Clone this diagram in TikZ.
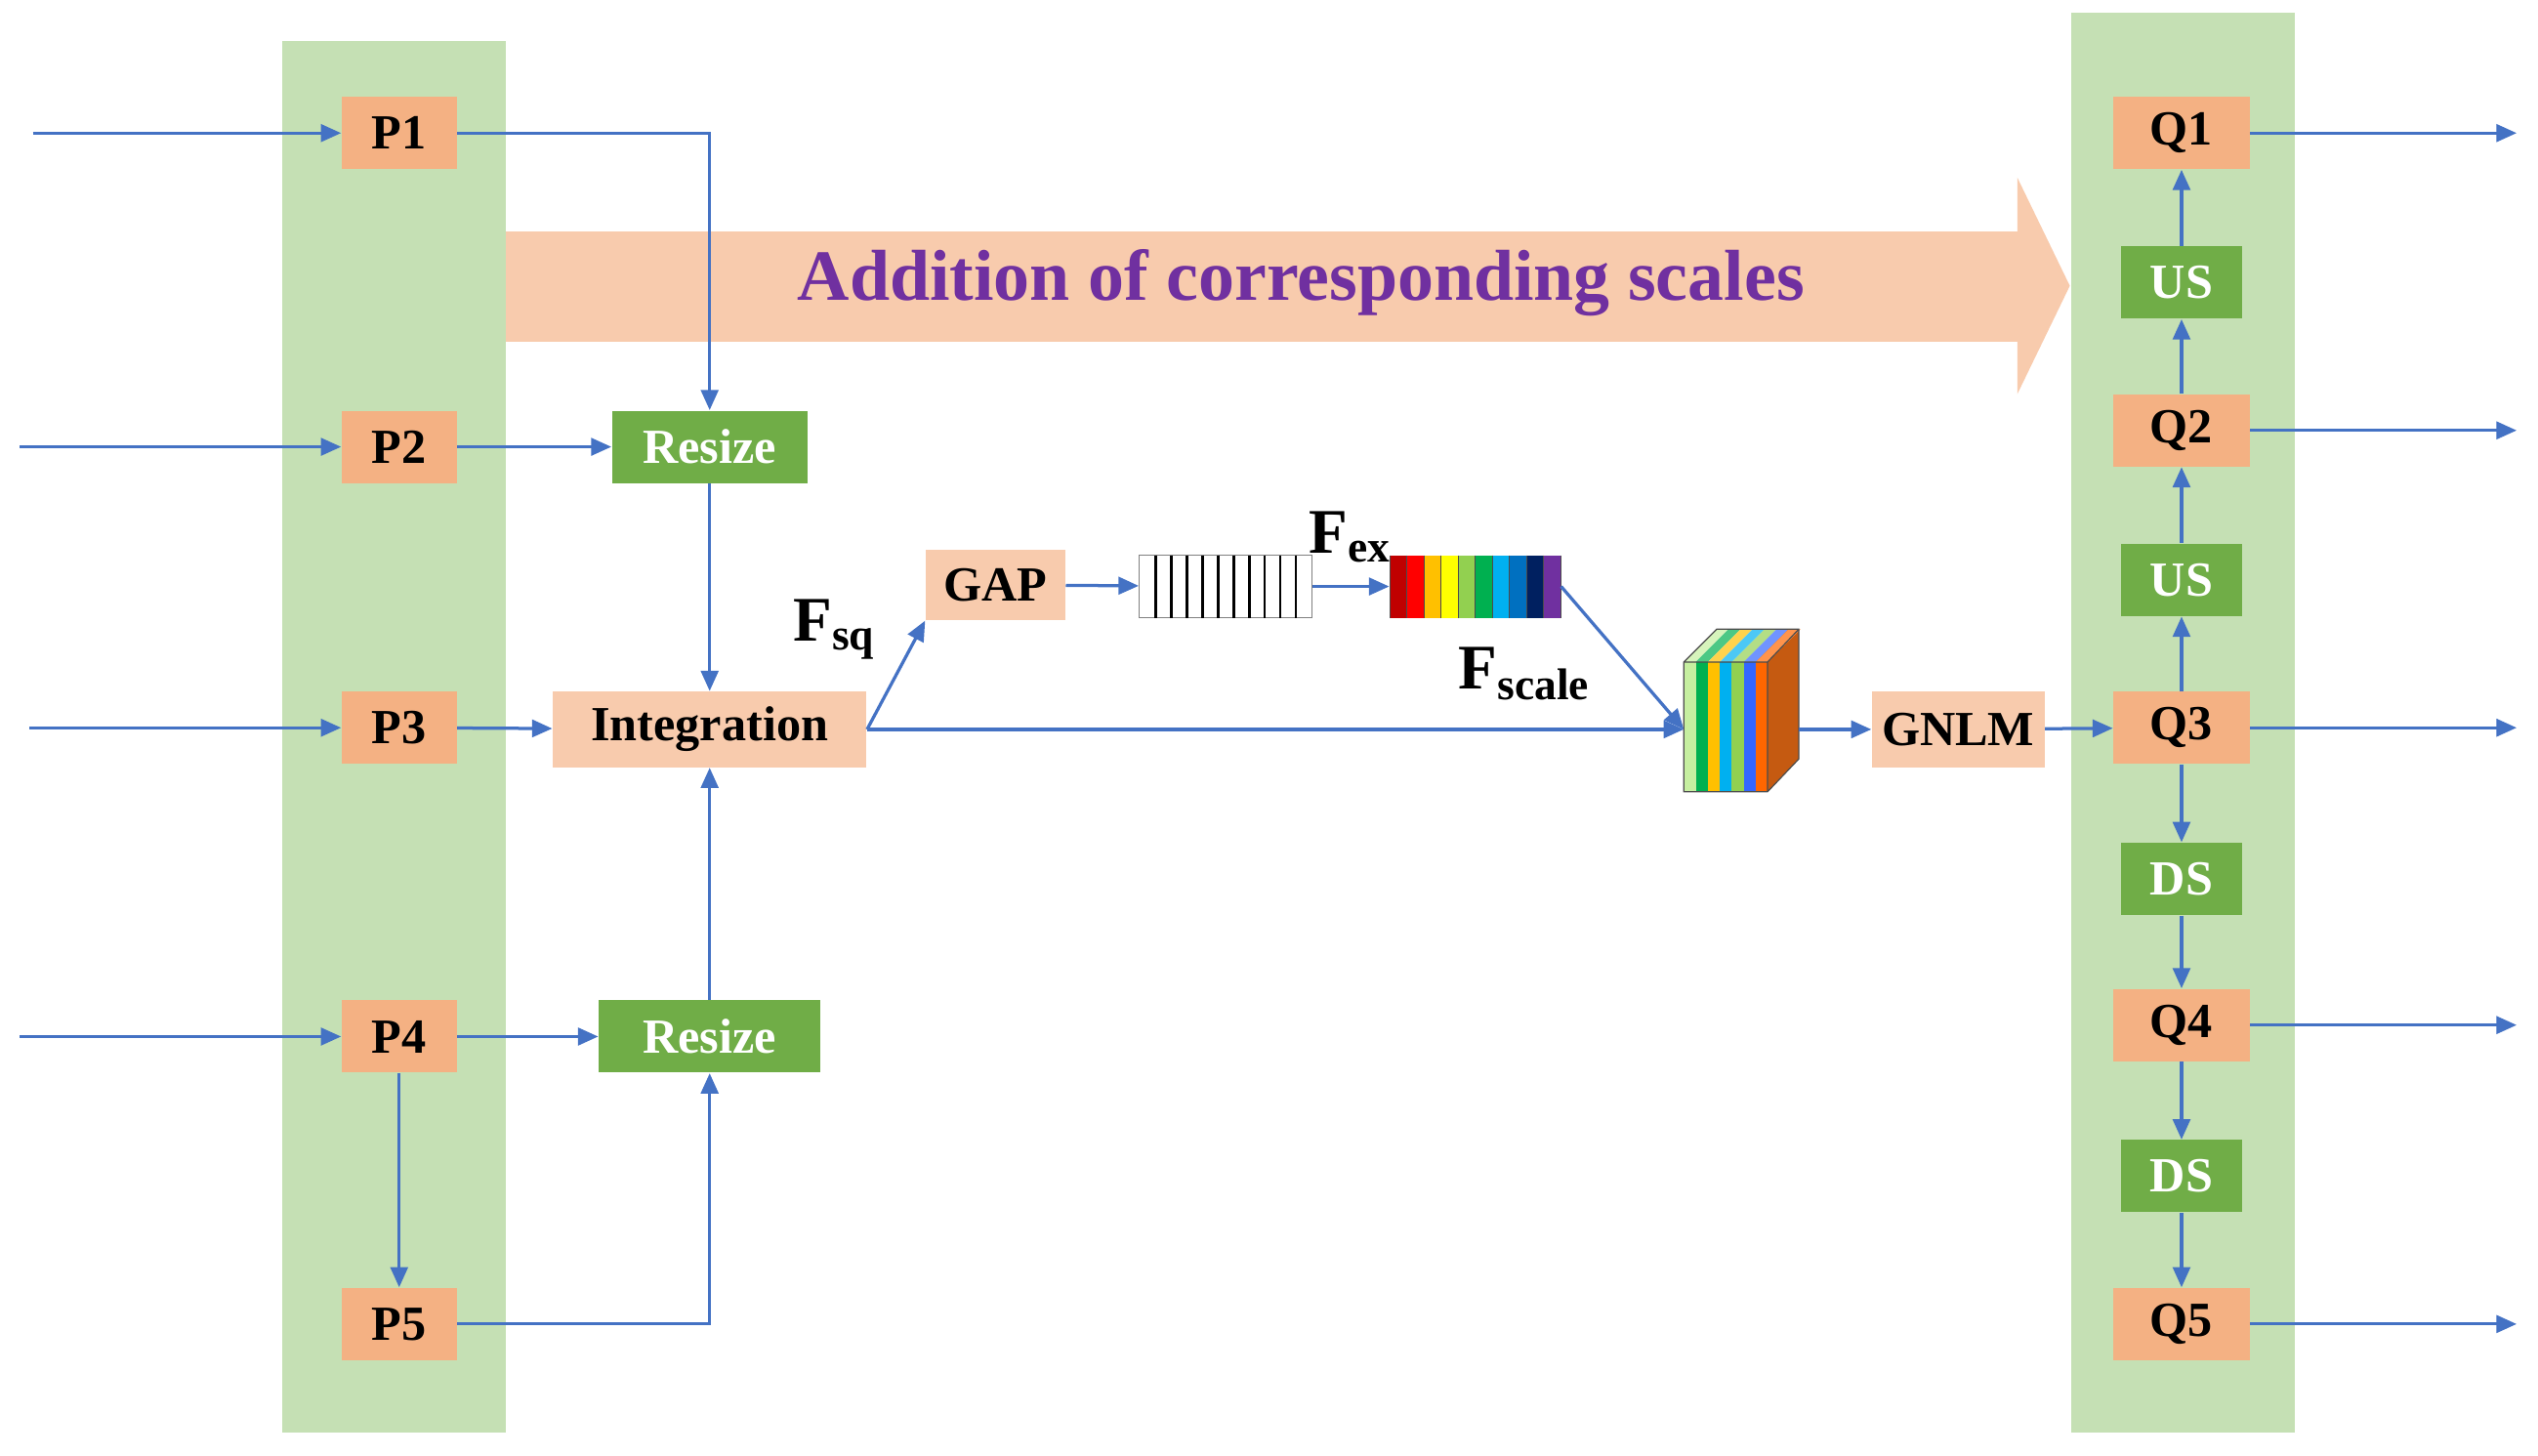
\documentclass[tikz,border=0pt]{standalone}
\usepackage{fontspec}
\setmainfont{Liberation Serif}
\usetikzlibrary{arrows.meta}
\definecolor{band}{HTML}{C5E0B4}
\definecolor{org}{HTML}{F4B183}
\definecolor{peach}{HTML}{F8CBAD}
\definecolor{grn}{HTML}{70AD47}
\definecolor{ablue}{HTML}{4472C4}
\definecolor{ttl}{HTML}{7030A0}
\begin{document}
\begin{tikzpicture}[x=0.02cm,y=-0.02cm,
  pbox/.style={fill=org,draw=none,minimum width=1.4cm,minimum height=0.88cm,font=\bfseries\fontsize{17}{17}\selectfont,inner sep=0pt},
  qbox/.style={pbox,minimum width=1.66cm},
  gbox/.style={fill=grn,draw=none,text=white,minimum height=0.88cm,font=\bfseries\fontsize{17}{17}\selectfont,inner sep=0pt},
  lbox/.style={fill=peach,draw=none,minimum height=0.92cm,font=\bfseries\fontsize{17}{17}\selectfont,inner sep=0pt},
  ar/.style={draw=ablue,line width=1.1pt,-{Triangle[length=7pt,width=6pt]}},
  lab/.style={font=\bfseries\fontsize{22}{22}\selectfont}]
\useasboundingbox (0,0) rectangle (1545,886);
\fill[band] (172,25) rectangle (308,872);
\fill[band] (1261,8) rectangle (1397,872);
\fill[peach] (308,141) -- (1228,141) -- (1228,108) -- (1260,174) -- (1228,240) -- (1228,208) -- (308,208) -- cycle;
\node[text=ttl,font=\bfseries\fontsize{25}{25}\selectfont] (title) at (792,172) {Addition of corresponding scales};
% P nodes
\foreach \n/\y in {1/81,2/272,3/443,4/631,5/806} \node[pbox] (P\n) at (243,\y) {P\n};
\foreach \n/\y in {1/81,2/262,3/443,4/624,5/806} \node[qbox] (Q\n) at (1328,\y) {Q\n};
\node[gbox,minimum width=1.48cm] (US1) at (1328,172) {US};
\node[gbox,minimum width=1.48cm] (US2) at (1328,353) {US};
\node[gbox,minimum width=1.48cm] (DS1) at (1328,535) {DS};
\node[gbox,minimum width=1.48cm] (DS2) at (1328,716) {DS};
\node[gbox,minimum width=2.38cm] (R1) at (432,272) {Resize};
\node[gbox,minimum width=2.7cm] (R2) at (432,631) {Resize};
\node[lbox,minimum width=3.82cm] (I) at (432,444) {Integration};
\node[lbox,minimum width=1.7cm,minimum height=0.86cm] (GAP) at (606,356) {GAP};
\node[lbox,minimum width=2.1cm] (GN) at (1192,444) {GNLM};
% stripes
\node[draw=gray,minimum width=2.1cm,minimum height=0.76cm,inner sep=0pt] (S) at (746,357) {};
\foreach \i in {1,...,10} \draw[black,line width=0.8pt] (694+\i*9.5,338) -- (694+\i*9.5,376);
% colour bar
\node[minimum width=2.08cm,minimum height=0.76cm,inner sep=0pt] (C) at (898,357) {};
\foreach \c [count=\i from 0] in {C00000,FF0000,FFC000,FFFF00,92D050,00B050,00B0F0,0070C0,002060,7030A0}{
  \definecolor{tmpc}{HTML}{\c}
  \fill[tmpc] (846+\i*10.4,338) rectangle ++(10.4,38);}
\foreach \i in {0,...,10} \draw[black!70,line width=0.3pt] (846+\i*10.4,338) -- ++(0,38);
% cube
\definecolor{side}{HTML}{C55A11}
\fill[side] (1068,403) -- (1088,383) -- (1095,383) -- (1095,462) -- (1076,482) -- (1076,403) -- cycle;
\foreach \c [count=\i from 0] in {C6EFA0,00B050,FFC000,00B0F0,92D050,3366FF,FF6600}{
  \definecolor{tmpc}{HTML}{\c}
  \fill[tmpc] (1025+\i*7.3,403) rectangle ++(7.3,79);
  \fill[tmpc!70!white] (1025+\i*7.3,403) -- ++(20,-20) -- ++(7.3,0) -- ++(-20,20) -- cycle;}
\draw[black!70,line width=0.4pt] (1025,482) -- (1025,403) -- (1045,383) -- (1095,383) -- (1095,462) -- (1076,482) -- cycle (1076,403) -- (1076,482) (1025,403) -- (1076,403) -- (1095,383);
\coordinate (cube) at (1025,444);
\coordinate (cubeR) at (1095,444);
% labels
\node[lab] (Fsq) at (508,383) {F\textsubscript{sq}};
\node[lab] (Fex) at (822,327) {F\textsubscript{ex}};
\node[lab] (Fsc) at (928,410) {F\textsubscript{scale}};
% input arrows
\coordinate (i1) at (20,81); \coordinate (i2) at (12,272); \coordinate (i3) at (18,443); \coordinate (i4) at (12,631);
\draw[ar] (i1) -- (P1); \draw[ar] (i2) -- (P2); \draw[ar] (i3) -- (P3); \draw[ar] (i4) -- (P4);
\foreach \n in {1,...,5}{\coordinate (o\n) at (1532,0 |- Q\n); \draw[ar] (Q\n) -- (o\n);}
\draw[ar] (P1.east) -| (R1.north);
\draw[ar] (P2) -- (R1);
\draw[ar] (R1) -- (I);
\draw[ar] (P3) -- (I);
\draw[ar] (P4) -- (R2);
\draw[ar] (P4) -- (P5);
\draw[ar] (P5.east) -| (R2.south);
\draw[ar] (R2) -- (I);
\draw[ar] (I.east) -- (GAP.south west);
\draw[ar] (I.east) -- (cube);
\draw[ar] (GAP) -- (S);
\draw[ar] (S) -- (C);
\draw[ar] (C.east) -- (cube);
\draw[ar] (cubeR) -- (GN);
\draw[ar] (GN) -- (Q3);
\draw[ar] (Q3) -- (US2); \draw[ar] (US2) -- (Q2); \draw[ar] (Q2) -- (US1); \draw[ar] (US1) -- (Q1);
\draw[ar] (Q3) -- (DS1); \draw[ar] (DS1) -- (Q4); \draw[ar] (Q4) -- (DS2); \draw[ar] (DS2) -- (Q5);
\end{tikzpicture}
\end{document}
